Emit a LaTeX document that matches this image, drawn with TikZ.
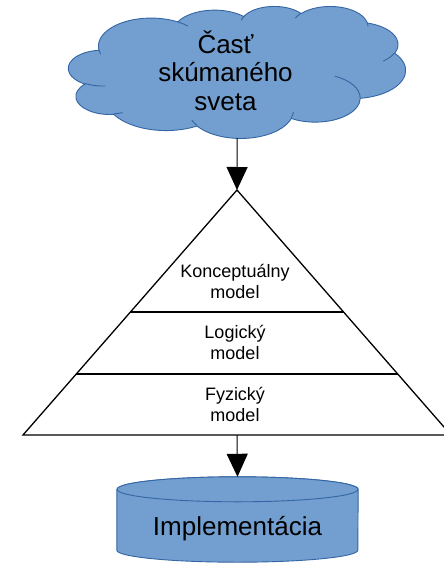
\documentclass[tikz,border=0pt]{standalone}
\usepackage{fontspec}
\setmainfont{Liberation Sans}
\usetikzlibrary{arrows.meta,calc,backgrounds}
\definecolor{blobfill}{HTML}{729FCF}
\definecolor{blobline}{HTML}{3465A4}

\tikzset{
  % elliptic arc given by radii, visual start angle and sweep (DrawingML style)
  oo/.code args={#1/#2/#3/#4}{%
    \pgfmathsetmacro\ooS{atan2((#1)*sin(#3),(#2)*cos(#3))}%
    \pgfmathsetmacro\ooE{atan2((#1)*sin((#3)+(#4)),(#2)*cos((#3)+(#4)))}%
    \pgfmathsetmacro\ooD{mod((\ooE)-(\ooS)+720,360)}%
    \edef\ootmp{\noexpand\pgfkeysalso{start angle=\ooS,delta angle=\ooD,x radius=#1,y radius=#2}}%
    \ootmp},
  blob/.style={fill=blobfill, draw=blobline, line width=0.9pt},
  blobline/.style={draw=blobline, line width=0.9pt},
  edge/.style={draw=black, line width=1.3pt},
  link/.style={draw=black, line width=1pt, -{Triangle[width=21pt,length=23pt]}},
  layertext/.style={font=\fontsize{18}{21}\selectfont, align=center, inner sep=0pt},
  bigtext/.style={font=\fontsize{26}{28.5}\selectfont, align=center, inner sep=0pt},
}

\begin{document}
\begin{tikzpicture}[x=1pt,y=-1pt]
\useasboundingbox (0,0) rectangle (444,563);

% cloud
\node[minimum width=337pt, minimum height=132pt, inner sep=0pt, anchor=north west] (cloud) at (68.5,6) {};
\begin{scope}[shift={(cloud.north west)}, x=0.78009pt, y=-0.30556pt]
  \filldraw[blob] (39.00,143.70)
    arc[oo=67.53/91.90/-190.4875/123.7805]
    arc[oo=53.33/72.67/-144.1024/89.9452]
    arc[oo=43.65/59.45/-145.8079/99.7230]
    arc[oo=48.57/65.95/-130.9861/117.2417]
    arc[oo=53.33/72.73/-78.7089/109.0269]
    arc[oo=67.75/92.20/-46.2673/130.2690]
    arc[oo=57.85/78.67/0.6250/114.0333]
    arc[oo=67.52/92.15/22.4516/115.1726]
    arc[oo=77.20/105.43/66.2426/75.7110]
    arc[oo=43.60/59.18/-274.9421/146.7356]
    arc[oo=43.45/59.45/-246.8285/152.5189]
    -- cycle;
  \draw[blobline]
    (46.93,261.77) arc[oo=43.45/59.45/86.7420/26.4295]
    (69.28,348.99) arc[oo=43.60/59.18/73.6105/11.4475]
    (164.78,390.90) arc[oo=67.52/92.15/137.6241/14.0811]
    (288.27,347.51) arc[oo=67.52/92.15/6.4533/15.9984]
    (341.29,229.54) arc[oo=57.85/78.67/-70.2924/70.9174]
    (417.98,153.54) arc[oo=53.33/72.73/30.3180/27.7515]
    (383.24,54.26) arc[oo=48.57/65.95/-13.7443/14.8589]
    (290.78,39.52) arc[oo=48.57/65.95/-149.1815/18.1954]
    (221.41,47.20) arc[oo=43.65/59.45/-163.4943/19.5048]
    (140.00,51.92) arc[oo=67.53/91.90/-66.7070/12.3194]
    (41.27,157.89) arc[oo=67.53/91.90/157.6544/11.8582];
\end{scope}
% anchor=base of a multi-line node sits on its last line
\node[bigtext, anchor=base] (cloudtext) at (225.5,110) {Časť\\skúmaného\\sveta};

% pyramid
\coordinate (apex) at (237,190);
\coordinate (bl) at (23,435);
\coordinate (br) at (451,435);
\coordinate (basemid) at (237,435);
\draw[edge] (apex) -- (bl) -- (br) -- cycle;
\draw[edge] ($(apex)!0.498!(bl)$) -- ($(apex)!0.498!(br)$);
\draw[edge] ($(apex)!0.751!(bl)$) -- ($(apex)!0.751!(br)$);
\node[layertext, anchor=base] (concept) at (235,298.5) {Konceptuálny\\model};
\node[layertext, anchor=base] (logic) at (235,359) {Logický\\model};
\node[layertext, anchor=base] (phys) at (235,421) {Fyzický\\model};

% implementation store
\node[bigtext, anchor=base, text height=58pt, text depth=27pt, minimum width=241pt] (impl) at (237.5,535) {Implementácia};
\begin{scope}[on background layer]
  \filldraw[blob] ($(impl.north west)+(0,12.5)$) -- ($(impl.south west)+(0,-12)$)
    arc[start angle=180, end angle=0, x radius=120.5, y radius=12]
    -- ($(impl.north east)+(0,12.5)$)
    arc[start angle=0, end angle=-180, x radius=120.5, y radius=12.5] -- cycle;
  \filldraw[blob] ($(impl.north)+(0,12.5)$) ellipse[x radius=120.5, y radius=12.5];
\end{scope}

% connectors
\draw[link] (cloud.south) -- (apex);
\draw[link] (basemid) -- (impl.north);
\end{tikzpicture}
\end{document}
